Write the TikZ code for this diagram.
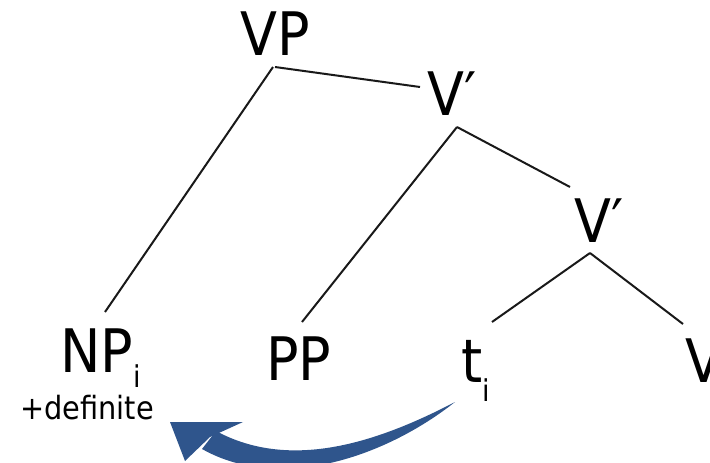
\documentclass[tikz,border=0pt]{standalone}
\usepackage{fontspec}
\setmainfont{DejaVu Sans Condensed}
\usetikzlibrary{calc}
\definecolor{moveblue}{RGB}{47,85,140}
\tikzset{
  cat/.style={anchor=base, inner sep=0pt, font=\fontsize{60}{60}\selectfont},
  idx/.style={anchor=base, inner sep=0pt, font=\fontsize{30}{30}\selectfont},
  feat/.style={anchor=base, inner sep=0pt, font=\fontsize{32}{32}\selectfont},
  branch/.style={draw=black!90, line width=2pt},
  movement/.style={fill=moveblue, draw=none}
}
\begin{document}
\begin{tikzpicture}[x=1pt, y=-1pt]
  \useasboundingbox (0,0) rectangle (710,463);

  % categories
  \node[cat] (vp) at (275,55) {VP};
  \node[cat] (v1) at (452,115) {V′};
  \node[cat] (v2) at (599,242) {V′};
  \node[cat] (np) at (97,372) {NP};
  \node[idx] (npi) at (137,387) {i};
  \node[feat] (def) at (87,419) {+definite};
  \node[cat] (pp) at (299,380) {PP};
  \node[cat] (t) at (472,382) {t};
  \node[idx] (ti) at (486,401) {i};
  \node[cat] (v) at (704,382) {V};

  % branches
  \draw[branch] ($(vp.base)+(0,12)$) -- ($(v1.base)+(-32,-28)$);
  \draw[branch] ($(vp.base)+(-2,12)$) -- ($(np.base)+(8,-60)$);
  \draw[branch] ($(v1.base)+(5,12)$) -- ($(pp.base)+(3,-58)$);
  \draw[branch] ($(v1.base)+(5,12)$) -- ($(v2.base)+(-29,-55)$);
  \draw[branch] ($(v2.base)+(-9,11)$) -- ($(t.base)+(20,-60)$);
  \draw[branch] ($(v2.base)+(-9,11)$) -- ($(v.base)+(-21,-58)$);

  % movement arrow from the trace back to the NP
  \coordinate (mv-start) at ($(t.base)+(-17,20)$);
  \coordinate (mv-tip) at ($(np.base)+(73,50)$);
  \fill[movement] (mv-start) .. controls (380,441) and (292,472) .. (216,431)
        -- (202,449) .. controls (282,494) and (388,455) .. (mv-start) -- cycle;
  \fill[movement] (mv-tip) -- (243,422) -- (210,437) -- (185,461) -- cycle;
\end{tikzpicture}
\end{document}
